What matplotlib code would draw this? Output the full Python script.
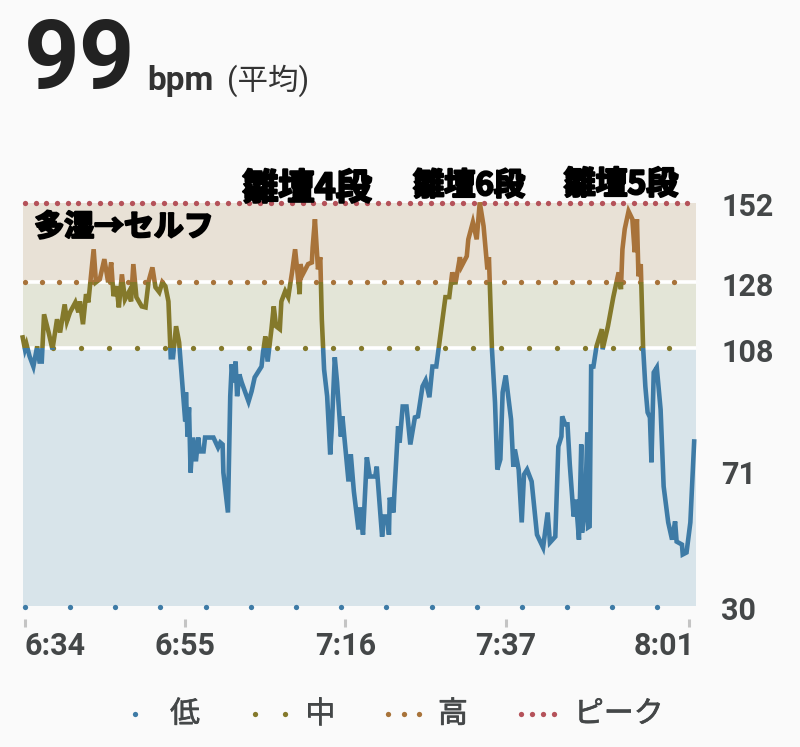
# heart rate chart, minutes after 6:34 vs bpm

import numpy as np
import matplotlib.pyplot as plt
import matplotlib.patheffects as pe
from matplotlib.lines import Line2D
from matplotlib.patches import Rectangle
from matplotlib.transforms import ScaledTranslation

plt.rcParams['font.family'] = ['Roboto', 'Noto Sans CJK JP', 'DejaVu Sans']

minutes = [
    -0.3, 0, 0.2, 0.6, 1.1, 1.6, 1.9, 2.2, 2.5, 3.1, 3.6, 4.2, 4.6, 5.2, 5.5, 5.9, 6.6, 7.0, 7.2, 7.6,
    8.0, 8.3, 9.0, 9.3, 9.8, 10.4, 10.9, 11.3, 11.6, 12.0, 12.3, 12.7, 13.1, 13.6, 13.9, 14.2, 14.6, 15.3, 15.8, 16.2,
    16.7, 17.1, 17.6, 18.0, 18.4, 18.8, 19.1, 19.4, 19.8, 20.2, 20.7, 21.0, 21.1, 21.3, 21.5, 21.7, 22.0, 22.4, 22.7, 22.9,
    23.4, 23.6, 24.7, 25.3, 25.6, 25.9, 26.0, 26.6, 26.9, 27.1, 27.3, 27.6, 27.8, 28.1, 28.4, 29.3, 29.7, 30.1, 31.0, 31.2,
    31.5, 31.8, 32.3, 32.6, 32.9, 33.4, 33.6, 34.1, 34.5, 35.0, 35.4, 36.0, 36.1, 36.4, 37.1, 37.6, 37.7, 38.0, 38.4, 38.7,
    38.9, 39.2, 39.6, 40.0, 40.2, 40.6, 40.9, 41.4, 41.6, 42.4, 42.7, 43.1, 43.7, 43.9, 44.3, 44.8, 45.2, 45.9, 46.1, 46.8,
    47.1, 47.5, 47.7, 47.8, 48.3, 48.4, 48.9, 49.1, 49.5, 50.0, 50.5, 51.1, 51.5, 52.1, 52.5, 53.0, 53.4, 53.9, 54.2, 54.6,
    55.1, 55.6, 56.0, 56.4, 57.0, 57.2, 57.9, 58.1, 58.7, 59.2, 59.6, 60.1, 60.6, 60.8, 61.2, 61.6, 61.9, 62.3, 62.6, 63.0,
    63.7, 64.0, 64.2, 64.7, 65.1, 65.4, 65.8, 66.4, 67.1, 67.9, 68.5, 68.8, 69.5, 69.9, 70.3, 70.4, 70.8, 71.1, 71.4, 71.9,
    72.2, 72.6, 72.9, 73.0, 73.4, 73.7, 73.8, 74.0, 74.2, 74.5, 74.9, 75.6, 75.7, 76.4, 77.1, 77.8, 78.1, 78.3, 78.6, 79.1,
    79.6, 79.9, 80.2, 80.4, 80.7, 81.0, 81.3, 81.6, 81.9, 82.1, 82.4, 82.8, 83.3, 83.7, 84.3, 84.8, 85.2, 85.4, 86.1, 86.2,
    86.7, 87.2, 87.7,
]
bpm = [
    111.3, 107.7, 109.2, 105.6, 102.5, 108.6, 104, 104, 118.3, 112.8, 107.7, 116.8, 112.8, 121.3, 116.2, 118.9, 121.9, 118.9, 122.2, 115.3,
    124.4, 121.9, 138, 128, 128.9, 135, 128, 134, 123.8, 126.8, 120.4, 130.4, 122.8, 125, 122.2, 133.5, 123.5, 120.7, 120.4, 128.3,
    132.5, 126.5, 125, 128, 126.8, 122.2, 105.3, 105.3, 114.7, 109.8, 94.7, 85.9, 94.7, 81.3, 90.1, 70.4, 81, 73.8, 81, 76.8,
    76.8, 81, 81, 78, 79.5, 78.9, 70.4, 58.3, 93.5, 103.2, 97.7, 104, 93.5, 100.1, 97.7, 91.9, 95, 99.2, 102.5, 106.8,
    111.6, 104, 113.8, 120.7, 114.7, 113.8, 122.2, 125.3, 123.5, 131, 138, 124.4, 133.5, 130.4, 133.5, 134, 138.6, 147.1, 131.9, 135.6,
    116.8, 101.6, 93.5, 75.9, 83.5, 105.3, 97.7, 81.3, 87.4, 67.7, 75.9, 64.7, 53.2, 59.8, 51.6, 75, 69.2, 69.2, 72.2, 51,
    57.1, 57.1, 51.6, 62.8, 58.3, 63.8, 84.4, 79.5, 90.4, 90.4, 78.9, 87.1, 87.4, 96.5, 98.3, 93.2, 102.5, 102.5, 107.7, 114.4,
    123.5, 123.5, 131, 127.4, 135.6, 132.8, 135.9, 141, 146.2, 141, 152.2, 145, 131.9, 135.6, 107.7, 91.6, 71.3, 74.4, 94.7, 99.8,
    86.5, 72.2, 77.4, 71.3, 55.3, 69.8, 71.3, 67.7, 51.6, 47.7, 58.3, 49.2, 51, 78.3, 81.3, 87.4, 85, 85, 72.8, 57.1,
    62.2, 50.1, 78.9, 52.2, 59.2, 82.5, 53.8, 54.1, 102.5, 102.5, 108.6, 113.8, 107.7, 114.7, 123.5, 131, 125.9, 138, 144.1, 149.5,
    147.1, 137.1, 147.1, 129.8, 133.5, 108.6, 96.5, 88.6, 87.1, 73.5, 100.7, 102.2, 89.5, 66.2, 55.3, 50.1, 55.6, 49.5, 48.6, 45.6,
    46.2, 55.3, 79.8,
]

tick_minutes = [0, 21, 42, 63, 87]
tick_labels = ['6:34', '6:55', '7:16', '7:37', '8:01']
bpm_ticks = [152, 128, 108, 71, 30]

zone_edges = [30, 108, 128, 152]
zone_fill = ['#d8e4ea', '#e3e5d7', '#e8e1d6']
zone_line = ['#3e7ba6', '#84792b', '#a8733a']
peak_color = '#b5525a'

legend_names = ['低', '中', '高', 'ピーク']

bg = '#fafafa'
text_col = '#444748'


def figpos(x, y):
    # picture pixels to figure fraction
    return x / 800, 1 - y / 747


fig = plt.figure(figsize=(8, 7.47), dpi=100, facecolor=bg)
ax = fig.add_axes([23 / 800, 1 - 606 / 747, 673 / 800, 403 / 747], facecolor=bg)
ax.set_xlim(-0.26, 87.94)
ax.set_ylim(30, 152)

# zones
for i in range(3):
    ax.axhspan(zone_edges[i], zone_edges[i + 1], color=zone_fill[i], lw=0, zorder=1)
ax.axhline(128, color='white', lw=2.6, zorder=2)
ax.axhline(108, color='white', lw=2.6, zorder=2)

# dotted zone limits
ax.plot(np.arange(0, 87.5, 1.4), [152] * len(np.arange(0, 87.5, 1.4)), 'o', ms=3.8, color=peak_color, mew=0, zorder=3, clip_on=False)
ax.plot(np.arange(0, 86.5, 2.24), [128] * len(np.arange(0, 86.5, 2.24)), 'o', ms=3.8, color=zone_line[2], mew=0, zorder=3)
ax.plot(np.arange(0, 85.5, 3.67), [108] * len(np.arange(0, 85.5, 3.67)), 'o', ms=3.8, color=zone_line[1], mew=0, zorder=3)
ax.plot(np.arange(0, 83, 5.92), [29.6] * len(np.arange(0, 83, 5.92)), 'o', ms=3.8, color=zone_line[0], mew=0, zorder=3, clip_on=False)

# same trace three times, each clipped to its zone
for i in range(3):
    low = zone_edges[i]
    high = 170 if i == 2 else zone_edges[i + 1]
    line, = ax.plot(minutes, bpm, color=zone_line[i], lw=3.3, solid_joinstyle='miter', zorder=4, clip_on=True)
    line.set_clip_path(Rectangle((-5, low), 100, high - low, transform=ax.transData))

for name in ['top', 'left', 'right']:
    ax.spines[name].set_visible(False)
ax.spines['bottom'].set_position(('outward', 9.5))
ax.spines['bottom'].set_visible(False)

ax.set_xticks(tick_minutes)
ax.set_xticklabels(tick_labels, fontsize=22, color=text_col, fontweight='bold')
ax.tick_params(axis='x', length=5.8, width=2.2, color='#c4c4c4', pad=3)
ticklabs = ax.get_xticklabels()
ticklabs[0].set_ha('left')
ticklabs[-1].set_ha('right')
# last label sticks out past its tick a little
ticklabs[-1].set_transform(ticklabs[-1].get_transform() + ScaledTranslation(6 / 100, 0, fig.dpi_scale_trans))

ax.yaxis.tick_right()
ax.set_yticks(bpm_ticks)
ax.set_yticklabels([str(b) for b in bpm_ticks], fontsize=22, color=text_col, fontweight='bold')
ax.tick_params(axis='y', length=0, pad=18)
down = ScaledTranslation(0, -1.5 / 100, fig.dpi_scale_trans)
for lab in ax.get_yticklabels():
    lab.set_transform(lab.get_transform() + down)

# header
x, y = figpos(24, 88)
fig.text(x, y, '99', fontsize=70, fontweight='bold', color='#222222', va='baseline')
x, y = figpos(147, 90)
fig.text(x, y, 'bpm', fontsize=24, fontweight='bold', color='#333333', va='baseline')
x, y = figpos(227, 90)
fig.text(x, y, '(平均)', fontsize=22, color='#333333', va='baseline')

# notes written on the picture
heavy = [pe.withStroke(linewidth=1.6, foreground='black')]
notes = [('多湿→セルフ', 124, 227, 21.5), ('雛壇4段', 307, 189, 26), ('雛壇6段', 469, 186, 22.5), ('雛壇5段', 621, 185, 23)]
for note, nx, ny, size in notes:
    x, y = figpos(nx, ny)
    fig.text(x, y, note, fontsize=size, fontweight='bold', color='black', ha='center', va='center',
             family=['Noto Sans CJK JP', 'DejaVu Sans'], path_effects=heavy, zorder=10)

# legend, dots then label
legend_dots = [[135], [255, 285], [388, 404, 419], [521, 532, 543, 554]]
legend_text_x = [170, 305, 438, 574]
legend_colors = zone_line + [peak_color]
for dots, tx, name, col in zip(legend_dots, legend_text_x, legend_names, legend_colors):
    for d in dots:
        x, y = figpos(d, 714)
        fig.add_artist(Line2D([x], [y], marker='o', ms=3.8, mew=0, color=col, transform=fig.transFigure))
    x, y = figpos(tx, 714)
    fig.text(x, y, name, fontsize=21.5, color=text_col, va='center', family=['Noto Sans CJK JP', 'DejaVu Sans'],
             path_effects=[pe.withStroke(linewidth=0.5, foreground=text_col)])

fig.savefig('out.png', dpi=100, facecolor=bg)
